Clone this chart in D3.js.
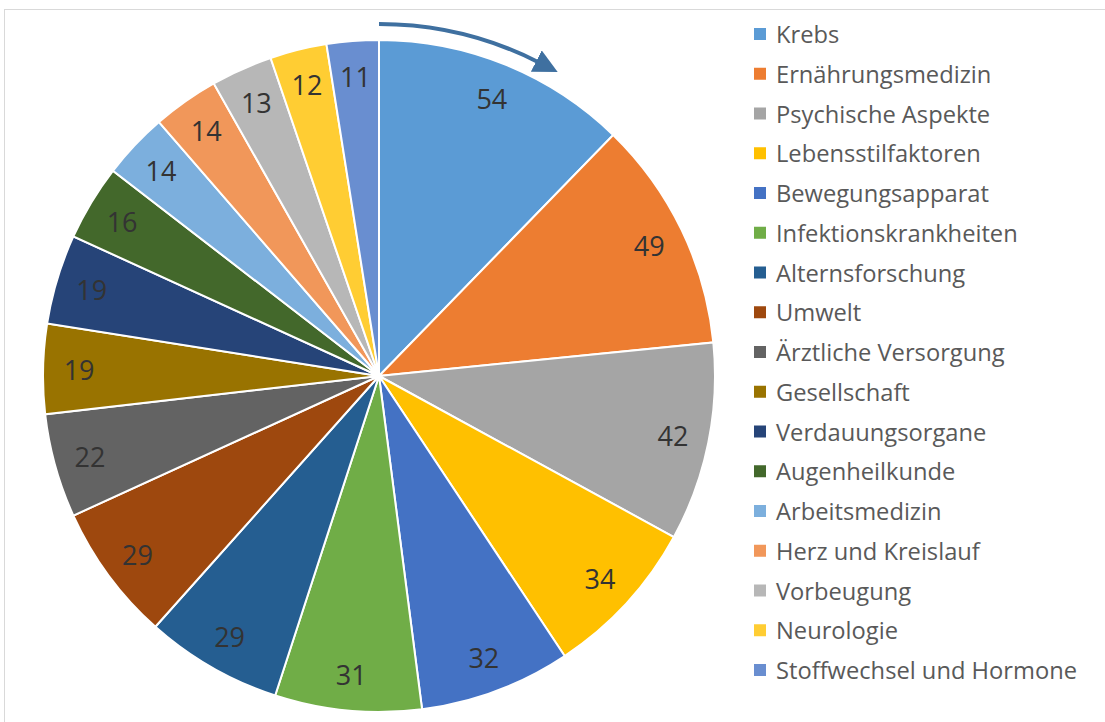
<!DOCTYPE html>
<html><head><meta charset="utf-8">
<script src="https://cdn.jsdelivr.net/npm/d3@7"></script>
<style>body{margin:0;background:#fff}svg{display:block}</style>
</head><body>
<svg id="c" width="1105" height="722"></svg>
<script>
const categories = ["Krebs","Ernährungsmedizin","Psychische Aspekte","Lebensstilfaktoren","Bewegungsapparat","Infektionskrankheiten","Alternsforschung","Umwelt","Ärztliche Versorgung","Gesellschaft","Verdauungsorgane","Augenheilkunde","Arbeitsmedizin","Herz und Kreislauf","Vorbeugung","Neurologie","Stoffwechsel und Hormone"];
const values = [54,49,42,34,32,31,29,29,22,19,19,16,14,14,13,12,11];
const colors = ["#5B9BD5","#ED7D31","#A5A5A5","#FFC000","#4472C4","#70AD47","#255E91","#9E480E","#636363","#997300","#264478","#43682B","#7CAFDD","#F1975A","#B7B7B7","#FFCD33","#698ED0"];

const svg = d3.select("#c");
svg.append("rect").attr("x",4.5).attr("y",9.5).attr("width",1110).attr("height",720)
  .attr("fill","none").attr("stroke","#d9d9d9").attr("stroke-width",1);

const cx = 379, cy = 376, R = 336;
const g = svg.append("g").attr("transform",`translate(${cx},${cy})`);
const data = categories.map((c,i)=>({c, v:values[i], col:colors[i]}));
const pie = d3.pie().value(d=>d.v).sort(null);
const arcs = pie(data);
const arc = d3.arc().innerRadius(0).outerRadius(R);
const labelArc = d3.arc().innerRadius(300).outerRadius(300);
g.selectAll("path.s").data(arcs).join("path").attr("class","s")
  .attr("d",arc).attr("fill",d=>d.data.col).attr("stroke","#fff").attr("stroke-width",2);
g.selectAll("text.l").data(arcs).join("text").attr("class","l")
  .attr("transform",d=>`translate(${labelArc.centroid(d)})`)
  .attr("text-anchor","middle").attr("dominant-baseline","central")
  .attr("font-family","'Open Sans', sans-serif").attr("font-size",27)
  .attr("fill","#333333").text(d=>d.data.v);

// arrow (clockwise, from 12 o'clock)
const defs = svg.append("defs");
defs.append("marker").attr("id","ah").attr("viewBox","0 0 10 10").attr("refX",1).attr("refY",5)
  .attr("markerWidth",6).attr("markerHeight",6).attr("orient","auto").attr("markerUnits","strokeWidth")
  .append("path").attr("d","M0,0 L10,5 L0,10 Z").attr("fill","#3F70A0");
const ar = 352, a1 = 0.47;
const ex = ar*Math.sin(a1), ey = -ar*Math.cos(a1);
g.append("path").attr("d",`M0,${-ar} A${ar},${ar} 0 0 1 ${ex},${ey}`).attr("fill","none").attr("stroke","#3F70A0")
  .attr("stroke-width",4).attr("marker-end","url(#ah)");

// legend
const lg = svg.append("g");
const rowY = d3.scaleLinear().domain([0,categories.length-1]).range([34,670]);
const rows = lg.selectAll("g").data(data).join("g").attr("transform",(d,i)=>`translate(0,${rowY(i)})`);
rows.append("rect").attr("x",754).attr("y",-6).attr("width",12).attr("height",12).attr("fill",d=>d.col);
rows.append("text").attr("x",776).attr("y",0).attr("dominant-baseline","central")
  .attr("font-family","'Open Sans', sans-serif").attr("font-size",23.7).attr("fill","#595959").text(d=>d.c);
</script>
</body></html>
